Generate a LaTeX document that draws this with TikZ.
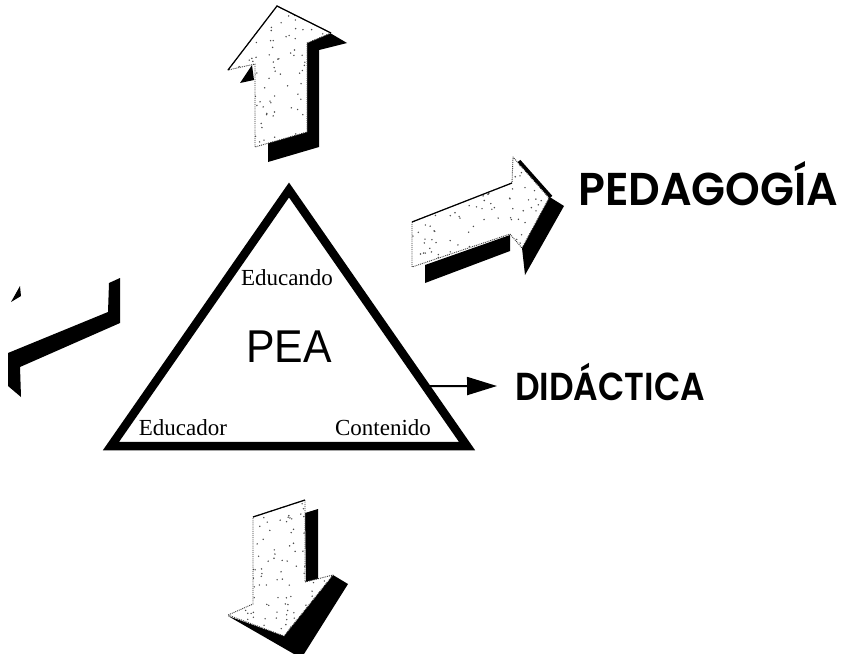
\documentclass[tikz,border=0pt]{standalone}
\usepackage{fontspec}
\setmainfont{Liberation Serif}
\newfontfamily\arialfont{Liberation Sans}
\newfontfamily\comicfont{Poppins}[UprightFont=* SemiBold]
\usetikzlibrary{arrows.meta,calc}
\newcommand\myspecks[5]{\foreach \k in {1,...,#5}{\pgfmathsetmacro\sx{#1+rnd*(#2-#1)}\pgfmathsetmacro\sy{#3+rnd*(#4-#3)}\fill[speck] (\sx,\sy) circle (0.8);}}
\begin{document}
\begin{tikzpicture}[x=1pt,y=-1pt,
  face/.style={draw=black!80, line width=0.9pt, densely dotted, line join=round},
  solidshade/.style={fill=black, draw=none},
  vertexlbl/.style={font=\fontsize{23}{26}\selectfont, inner sep=0pt, anchor=base},
  speck/.style={fill=black!70}]
\useasboundingbox (0,0) rectangle (850,653);
\fill[white] (0,0) rectangle (850,653);
\pgfmathsetseed{7}

% ---------- up arrow ----------
\fill[solidshade] (330,33) -- (347,43) -- (319,50) -- (319,147) -- (268,162) -- (268,143) -- (307,132) -- (307,43) -- cycle;
\fill[solidshade] (252,65) -- (240,83) -- (254,80) -- cycle;
\fill[white] (277,6) -- (331,33) -- (307,43) -- (307,132) -- (255,147) -- (255,64) -- (228,70) -- cycle;
\begin{scope}
\clip (277,6) -- (331,33) -- (307,43) -- (307,132) -- (255,147) -- (255,64) -- (228,70) -- cycle;
\myspecks{228}{331}{6}{147}{140}
\end{scope}
\draw[face] (277,6) -- (331,33) -- (307,43) -- (307,132) -- (255,147) -- (255,64) -- (228,70) -- cycle;
\draw[line width=1.2pt] (228,70) -- (277,6) -- (331,33);

% ---------- right arrow ----------
\fill[solidshade] (425,265) -- (510,235) -- (510,251) -- (425,283) -- cycle;
\fill[solidshade] (548,196) -- (564,206) -- (525,275) -- (522,248) -- cycle;
\fill[white] (412,222) -- (512,183) -- (513,157) -- (549,198) -- (522,248) -- (510,234) -- (412,267) -- cycle;
\begin{scope}
\clip (412,222) -- (512,183) -- (513,157) -- (549,198) -- (522,248) -- (510,234) -- (412,267) -- cycle;
\myspecks{412}{549}{157}{267}{140}
\end{scope}
\draw[face] (412,222) -- (512,183) -- (513,157) -- (549,198) -- (522,248) -- (510,234) -- (412,267) -- cycle;
\draw[line width=1.2pt] (412,222) -- (512,183);
\draw[line width=3.5pt] (519,161) -- (551,197);

% ---------- bottom arrow ----------
\fill[solidshade] (305,513) -- (318,509) -- (318,580) -- (306,585) -- cycle;
\fill[solidshade] (228,616) -- (294,654) -- (304,654) -- (348,584) -- (333,575) -- (284,636) -- cycle;
\fill[white] (253,517) -- (305,500) -- (305,582) -- (333,575) -- (284,636) -- (228,615) -- (253,604) -- cycle;
\begin{scope}
\clip (253,517) -- (305,500) -- (305,582) -- (333,575) -- (284,636) -- (228,615) -- (253,604) -- cycle;
\myspecks{228}{333}{500}{636}{140}
\end{scope}
\draw[face] (253,517) -- (305,500) -- (305,582) -- (333,575) -- (284,636) -- (228,615) -- (253,604) -- cycle;
\draw[line width=1.2pt] (253,517) -- (305,500);

% ---------- left arrow (only its shadow shows) ----------
\fill[solidshade] (109,283) -- (120,278) -- (120,323) -- (20,367) -- (21,397) -- (8,386) -- (8,353) -- (108,312) -- cycle;
\fill[solidshade] (11,302) -- (20,286) -- (21,296) -- cycle;

% ---------- triangle ----------
\coordinate (apex) at (289,190);
\coordinate (bl) at (111,446);
\coordinate (br) at (467,446);
\draw[line width=8.5pt, line join=miter] (apex) -- (br) -- (bl) -- cycle;

\node[vertexlbl] (educando) at (287,285) {Educando};
\node[font=\arialfont\fontsize{46}{50}\selectfont, inner sep=0pt, anchor=base] (pea) at (289,362) {\scalebox{0.93}[1]{PEA}};
\node[vertexlbl] (educador) at (183,435) {Educador};
\node[vertexlbl] (contenido) at (383,435) {Contenido};

% ---------- outer labels ----------
\node[font=\comicfont\fontsize{46}{50}\selectfont, inner sep=0pt, anchor=base west] (pedagogia) at (578,205) {\scalebox{0.96}[1]{PEDAGOGÍA}};
\node[font=\comicfont\fontsize{39}{42}\selectfont, inner sep=0pt, anchor=base west] (didactica) at (515,400) {\scalebox{0.88}[1]{DIDÁCTICA}};

\coordinate (didstart) at ($(apex)!0.766!(br)$);
\draw[line width=2pt, -{Triangle[length=30pt,width=18pt]}] (didstart) -- ($(didactica.base west)+(-18,-14)$);
\end{tikzpicture}
\end{document}
